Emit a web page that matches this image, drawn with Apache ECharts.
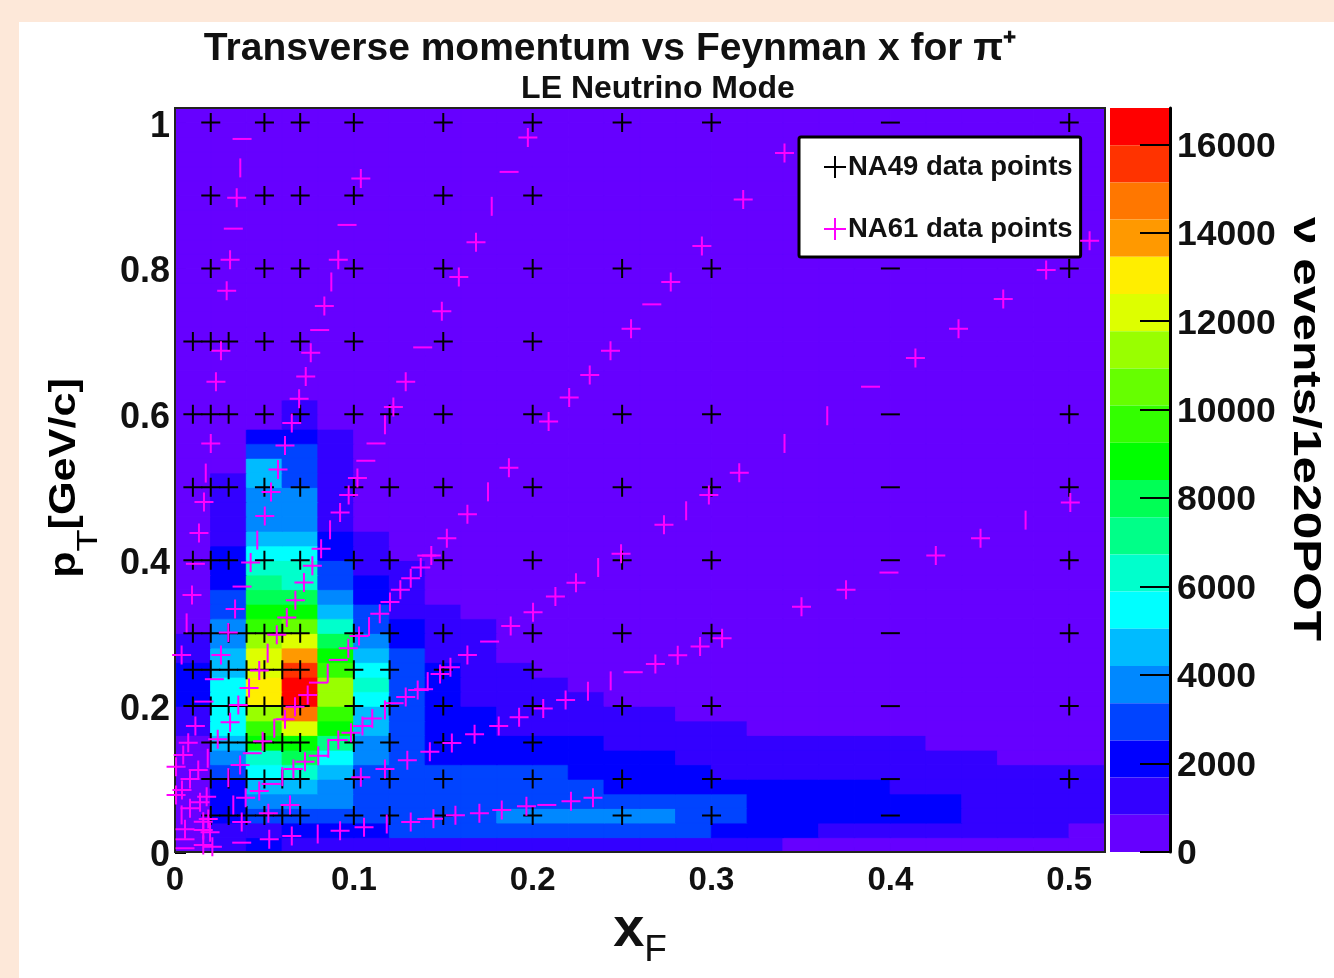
<!DOCTYPE html>
<html>
<head>
<meta charset="utf-8">
<style>html,body{margin:0;padding:0;background:#fff}#c{width:1334px;height:978px}</style>
<script src="https://cdn.jsdelivr.net/npm/echarts@6/dist/echarts.min.js"></script>
</head>
<body>
<div id="c"></div>
<script>
const colorLevels = [0,841,1682,2523,3364,4205,5046,5887,6728,7569,8410,9251,10092,10933,11774,12615,13456,14297,15138,15979,16820];
const bandColors = ['#6600ff','#3300ff','#0000ff','#0044ff','#0088ff','#00bbff','#00ffff','#00ffcc','#00ff88','#00ff55','#00ff00','#33ff00','#66ff00','#99ff00','#ddff00','#ffee00','#ff9900','#ff7700','#ff3300','#ff0000'];
const flatCount = 400;
// events per bin, rows from pT = 0 upward in 0.02 steps, columns from xF = 0 in 0.02 steps; bins not listed sit at flatCount
const eventRows = [
 [400,1260,2100,1260,1260,1260,1260,1260,1260,1260,1260,1260,1260,1260,1260,1260,1260],
 [400,1260,1260,2100,2100,2100,2950,2950,2950,2950,2950,2950,2950,2950,2950,2100,2100,2100,1260,1260,1260,1260,1260,1260,1260,400],
 [400,2100,2950,2950,2950,2950,2950,2950,2950,3800,3800,3800,3800,3800,2950,2950,2100,2100,2100,2100,2100,2100,1260,1260,1260,1260],
 [400,2100,3800,3800,3800,2950,2950,2950,2950,2950,2950,2950,2950,2950,2950,2950,2100,2100,2100,2100,2100,2100,1260,1260,1260,1260],
 [400,2100,4620,4620,3800,2950,2950,2950,2950,2950,2950,2950,2100,2100,2100,2100,2100,2100,2100,2100,1260,1260,1260,1260,1260,1260],
 [400,2950,5460,6300,4620,2950,2950,2950,2950,2950,2950,2100,2100,2100,2100,1260,1260,1260,1260,1260,1260,1260,1260,1260,1260,1260],
 [400,3800,6300,8000,5460,3800,2950,2100,2100,2100,2100,2100,2100,2100,1260,1260,1260,1260,1260,1260,1260,1260,1260],
 [400,4620,8830,8830,7150,3800,2950,2100,2100,2100,2100,2100,1260,1260,1260,1260,1260,1260,1260,1260,1260],
 [1260,5460,9670,12200,8830,4620,2950,2100,2100,1260,1260,1260,1260,1260,1260,1260],
 [1260,5460,11350,14700,9670,4620,2950,2100,2100,1260,1260,1260,1260,1260],
 [2100,5460,13000,16400,11350,5460,2950,2100,1260,1260,1260,1260],
 [2100,5460,13000,16400,11350,6300,2950,2100,1260,1260,1260],
 [2100,4620,12200,15550,9670,5460,2950,2100,1260,1260],
 [1260,4620,12200,13900,8830,4620,2950,1260,1260],
 [1260,3800,11350,12200,8000,3800,2100,1260,1260],
 [400,3800,9670,10500,6300,2950,2100,1260,1260],
 [400,2950,8830,8830,4620,2950,1260,1260],
 [400,2950,8000,8000,3800,2100,1260],
 [400,2100,7150,6300,2950,2100,1260],
 [400,2100,6300,6300,2950,1260,1260],
 [400,2100,5460,5460,2100,1260],
 [400,1260,4620,4620,2100,1260],
 [400,1260,3800,3800,1260],
 [400,1260,3800,3800,1260],
 [400,1260,3800,3800,1260],
 [400,1260,4620,2950,1260],
 [400,400,4620,2950,1260],
 [400,400,2950,2950,1260],
 [400,400,2100,2100,1260],
 [400,400,400,1260],
 [400,400,400,1260]
];
const xBinCount = 26;
const yBinCount = 51;
const xTicks = {min:0, max:0.52, major:0.1};
const yTicks = {min:0, max:1.02, major:0.2};

const na49Rows = [
 [1.0,[0.02,0.05,0.07,0.1,0.15,0.2,0.25,0.3,0.5]],
 [0.9,[0.02,0.05,0.07,0.1,0.15,0.2]],
 [0.8,[0.02,0.05,0.07,0.1,0.15,0.2,0.25,0.3,0.5]],
 [0.7,[0.01,0.02,0.03,0.05,0.07,0.1,0.15,0.2]],
 [0.6,[0.01,0.02,0.03,0.05,0.07,0.1,0.12,0.15,0.2,0.25,0.3,0.5]],
 [0.5,[0.01,0.02,0.03,0.05,0.07,0.1,0.12,0.15,0.2,0.25,0.3,0.5]],
 [0.4,[0.01,0.02,0.03,0.05,0.07,0.1,0.12,0.15,0.2,0.25,0.3,0.5]],
 [0.3,[0.01,0.02,0.03,0.04,0.05,0.06,0.07,0.1,0.12,0.15,0.2,0.25,0.3,0.5]],
 [0.25,[0.01,0.02,0.03,0.04,0.05,0.06,0.07,0.1,0.12,0.15,0.2]],
 [0.2,[0.01,0.02,0.03,0.04,0.05,0.06,0.07,0.1,0.12,0.15,0.2,0.25,0.3,0.5]],
 [0.15,[0.02,0.03,0.04,0.05,0.06,0.07,0.1,0.12,0.15,0.2]],
 [0.1,[0.02,0.03,0.04,0.05,0.06,0.07,0.1,0.12,0.15,0.2,0.25,0.3,0.5]],
 [0.05,[0.02,0.03,0.04,0.05,0.06,0.07,0.1,0.12,0.15,0.2,0.25,0.3]]
];
const na49DashRows = [[0.4,[1.0,0.8,0.6,0.5,0.4,0.3,0.2,0.1,0.05]]];

const na61Cross = [[.1039,.9232],[.0345,.8971],[.1973,.9794],[.1683,.8358],[.0308,.8121],[.0913,.8121],[.0289,.7695],[.1587,.7883],[.1492,.7412],[.0835,.7486],[.0257,.6872],[.0759,.6845],[.2435,.6872],[.0731,.652],[.0229,.6447],[.129,.6447],[.2319,.6539],[.2204,.6232],[.0694,.6214],[.1221,.61],[.0653,.5881],[.02,.5601],[.0615,.5573],[.0576,.5244],[.102,.5126],[.0537,.4934],[.0971,.4893],[.0162,.4797],[.0502,.4605],[.0923,.4654],[.0134,.4372],[.0817,.4156],[.0423,.3968],[.0768,.3923],[.0721,.3694],[.0095,.3525],[.0673,.3453],[.0336,.3333],[.0625,.3214],[.1374,.39],[.1318,.3754],[.126,.3594],[.1202,.3429],[.1145,.3265],[.0569,.2977],[.0298,.3008],[.1029,.2963],[.0969,.2794],[.0037,.2702],[.0257,.2702],[.0471,.2487],[.0414,.225],[.0742,.2154],[.1357,.2222],[.129,.2126],[.0354,.2016],[.0671,.1993],[.1103,.1829],[.1048,.1728],[.0615,.182],[.0308,.1779],[.0114,.1728],[.0984,.1636],[.0913,.1536],[.0801,.1321],[.0727,.1239],[.0662,.1139],[.0471,.0837],[.0395,.0745],[.0239,.1546],[.049,.1519],[.0074,.1499],[.0046,.1331],[.0364,.1193],[.0006,.117],[.013,.1125],[.0084,.1001],[.0039,.085],[.0006,.0782],[.0177,.0759],[.014,.0682],[.0084,.0599],[.0643,.0645],[.0522,.0531],[.0373,.0412],[.0186,.0453],[.0158,.0416],[.0056,.0311],[.0158,.0302],[.0196,.027],[.0158,.0096],[.0209,.0073],[.0527,.0174],[.0653,.0219],[.0923,.0292],[.1057,.0339],[.1318,.0412],[.1174,.1139],[.1299,.1258],[.1039,.1025],[.1425,.1376],[.1548,.1495],[.1675,.1615],[.181,.1728],[.1924,.1848],[.2059,.1966],[.2184,.2085],[.2002,.3288],[.3503,.3361],[.1877,.31],[.1635,.2702],[.154,.2534],[.1482,.2442],[.3059,.2931],[.2936,.2816],[.2811,.2698],[.2686,.2579],[.2337,.0745],[.2214,.0695],[.1965,.0627],[.1827,.0576],[.1702,.0531],[.1568,.0503],[.1445,.0457],[.2089,.5903],[.1867,.5267],[.3155,.5199],[.1635,.4632],[.152,.4303],[.1433,.4064],[.2985,.4893],[.2734,.4486],[.2494,.4088],[.2242,.369],[.2127,.3502],[.5006,.4792],[.4504,.4303],[.4254,.4064],[.3752,.3594],[.3408,.9584],[.3177,.8944],[.2946,.8309],[.2772,.7815],[.255,.7174],[.5114,.8381],[.4871,.7979],[.4631,.7582],[.4381,.7174],[.414,.6772]];
const na61DashH = [[.0375,.9776],[.0326,.8546],[.0962,.8597],[.1868,.9324],[.0809,.7156],[.1385,.6918],[.1124,.5601],[.1067,.5364],[.0114,.3951],[.0375,.3639],[.0913,.2634],[.0802,.2322],[.022,.2369],[.0162,.2062],[.1225,.204],[.0537,.0933],[.0432,.1354],[.0056,.0174],[.0056,.0051],[.0373,.0128],[.1408,.0453],[.1759,.2885],[.2562,.2465],[.2079,.0645],[.3992,.3831],[.2666,.7508],[.3889,.6379],[.139,.2232],[.1408,.4064]];
const na61DashV = [[.0365,.9379],[.1771,.8852],[.0874,.7815],[.1174,.5857],[.0172,.5195],[.046,.4276],[.0867,.4417],[.0065,.3141],[.1085,.309],[.0518,.2726],[.0854,.2451],[.1174,.1948],[.0555,.1697],[.06,.1033],[.0326,.0645],[.0183,.1285],[.0298,.1019],[.0037,.0508],[.0798,.0247],[.1184,.0384],[.1413,.2336],[.2436,.2346],[.2309,.2204],[.3647,.5981],[.3408,.5601],[.175,.4938],[.2858,.4678],[.2366,.39],[.4756,.455],[.0857,.1422]];

const FONT = '"Liberation Sans", Arial, sans-serif';
const PLUS = 'path://M0 10H20M10 0V20';
const DASH_H = 'path://M0 0M0 10H20M20 20';
const DASH_V = 'path://M0 0M10 0V20M20 20';

function bandColorOf(v) {
  for (let i = 0; i < bandColors.length; i++) { if (v < colorLevels[i + 1]) return bandColors[i]; }
  return bandColors[bandColors.length - 1];
}
const heatData = [];
for (let r = 0; r < yBinCount; r++) {
  const row = eventRows[r] || [];
  for (let c = 0; c < xBinCount; c++) {
    const v = row[c] === undefined ? flatCount : row[c];
    // each cell gets a hairline border in its own colour so neighbouring cells leave no seam
    heatData.push({value: [c, r, v], itemStyle: {borderColor: bandColorOf(v), borderWidth: 0.8}});
  }
}
const pieces = bandColors.map((color, i) => ({min: colorLevels[i], max: colorLevels[i + 1], color}));

const na49Data = [];
na49Rows.forEach(([y, xs]) => xs.forEach(x => na49Data.push([x, y])));
na49DashRows.forEach(([x, ys]) => ys.forEach(y => na49Data.push({value: [x, y], symbol: DASH_H})));
const na61Data = na61Cross.map(p => ({value: p}))
  .concat(na61DashH.map(p => ({value: p, symbol: DASH_H})))
  .concat(na61DashV.map(p => ({value: p, symbol: DASH_V})));

const grid = {left: 175, top: 108, width: 930, height: 744};
const option = {
  animation: false,
  backgroundColor: '#fff',
  graphic: [
    {type: 'rect', z: -10, shape: {x: 0, y: 0, width: 1334, height: 22}, style: {fill: '#fde8d9'}, silent: true},
    {type: 'rect', z: -10, shape: {x: 0, y: 0, width: 19, height: 978}, style: {fill: '#fde8d9'}, silent: true},
    {type: 'text', z: 5, silent: true, rotation: -Math.PI / 2, x: 1305, y: 429, scaleX: 1.27,
     style: {text: '\u03bd events/1e20POT', font: 'bold 39px ' + FONT, fill: '#000', align: 'center', verticalAlign: 'middle'}},
    {type: 'text', z: 5, silent: true, rotation: Math.PI / 2, x: 65, y: 478, scaleX: 1.2,
     style: {text: 'p{t|T}[GeV/c]', font: 'bold 36px ' + FONT, fill: '#000', align: 'center', verticalAlign: 'middle',
             rich: {t: {font: '30px ' + FONT, fill: '#000', padding: [47, 0, 0, 0]}}}}
  ],
  title: [
    {text: 'Transverse momentum vs Feynman x for \u03c0\u207a', left: 610, top: 30, textAlign: 'center', padding: 0,
     textStyle: {fontFamily: FONT, fontWeight: 'bold', fontSize: 39, color: '#111'}},
    {text: 'LE Neutrino Mode', left: 658, top: 73, textAlign: 'center', padding: 0,
     textStyle: {fontFamily: FONT, fontWeight: 'bold', fontSize: 32, color: '#111'}}
  ],
  legend: {
    left: 799, top: 137, orient: 'vertical', padding: [16, 8, 14, 24], itemGap: 34, itemWidth: 22, itemHeight: 22,
    backgroundColor: '#fff', borderColor: '#000', borderWidth: 3, borderRadius: 2, selectedMode: false,
    data: ['NA49 data points', 'NA61 data points'],
    textStyle: {fontFamily: FONT, fontWeight: 'bold', fontSize: 27.5, color: '#111', padding: [0, 0, 0, -3]}
  },
  visualMap: {
    type: 'piecewise', seriesIndex: 0, pieces, show: true, orient: 'vertical',
    left: 1110, top: 108, itemWidth: 60, itemHeight: 744 / 20, itemGap: 0, itemSymbol: 'rect',
    showLabel: false, selectedMode: false, hoverLink: false, padding: 0, text: null
  },
  grid: [
    Object.assign({show: false}, grid),
    Object.assign({show: true, borderColor: '#222', borderWidth: 2, backgroundColor: 'transparent', z: 3}, grid),
    {left: 1110, top: 108, width: 60, height: 744, show: false}
  ],
  xAxis: [
    {type: 'category', gridIndex: 0, show: false, data: Array.from({length: xBinCount}, (_, i) => i)},
    {type: 'value', gridIndex: 1, min: xTicks.min, max: xTicks.max, interval: xTicks.major, splitLine: {show: false},
     axisLine: {lineStyle: {color: '#333', width: 2}},
     axisTick: {inside: true, length: 9, lineStyle: {color: '#000', width: 2}},
     minorTick: {show: true, splitNumber: 5, length: 5, lineStyle: {color: '#000', width: 2}},
     axisLabel: {fontFamily: FONT, fontWeight: 'bold', fontSize: 33, color: '#111', margin: 12,
                 formatter: v => (v > 0.52 ? '' : String(+v.toFixed(1))), showMaxLabel: false},
     name: 'x{f|F}', nameLocation: 'middle', nameGap: 40,
     nameTextStyle: {fontFamily: FONT, fontWeight: 'bold', fontSize: 56, color: '#111',
       rich: {f: {fontFamily: FONT, fontWeight: 'normal', fontSize: 37, color: '#111', padding: [40, 0, 0, 0]}}}},
    {type: 'value', gridIndex: 2, show: false, min: 0, max: 1}
  ],
  yAxis: [
    {type: 'category', gridIndex: 0, show: false, data: Array.from({length: yBinCount}, (_, i) => i)},
    {type: 'value', gridIndex: 1, min: yTicks.min, max: yTicks.max, interval: yTicks.major, splitLine: {show: false},
     axisLine: {lineStyle: {color: '#888', width: 2}},
     axisTick: {inside: true, length: 11, lineStyle: {color: '#000', width: 3}},
     minorTick: {show: true, splitNumber: 4, length: 5, lineStyle: {color: '#000', width: 2}},
     axisLabel: {margin: 5, showMaxLabel: false, formatter: v => '{a|' + (+v.toFixed(1)) + '}',
                 rich: {a: {fontFamily: FONT, fontWeight: 'bold', fontSize: 36, color: '#111', padding: [8, 0, 0, 0]}}}},
    {type: 'value', gridIndex: 2, position: 'right', min: colorLevels[0], max: colorLevels[colorLevels.length - 1], interval: 2000,
     splitLine: {show: false}, z: 10,
     axisLine: {show: true, onZero: false, lineStyle: {color: '#000', width: 3}},
     axisTick: {show: true, inside: true, length: 30, lineStyle: {color: '#000', width: 2}},
     axisLabel: {margin: 7, showMaxLabel: false, formatter: v => '{a|' + v + '}',
                 rich: {a: {fontFamily: FONT, fontWeight: 'bold', fontSize: 35.5, color: '#111', padding: [5, 0, 0, 0]}}}}
  ],
  series: [
    {type: 'heatmap', xAxisIndex: 0, yAxisIndex: 0, data: heatData, progressive: 0, emphasis: {disabled: true}, silent: true, z: 1},
    {type: 'scatter', name: 'NA49 data points', xAxisIndex: 1, yAxisIndex: 1, data: na49Data, symbol: PLUS, symbolSize: 19,
     itemStyle: {color: 'transparent', borderColor: '#000', borderWidth: 2, opacity: 1}, silent: true, z: 5},
    {type: 'scatter', name: 'NA61 data points', xAxisIndex: 1, yAxisIndex: 1, data: na61Data, symbol: PLUS, symbolSize: 19,
     itemStyle: {color: 'transparent', borderColor: '#ff00ff', borderWidth: 2, opacity: 1}, silent: true, z: 6}
  ]
};
const chart = echarts.init(document.getElementById('c'), null, {renderer: 'canvas'});
chart.setOption(option);
</script>
</body>
</html>
